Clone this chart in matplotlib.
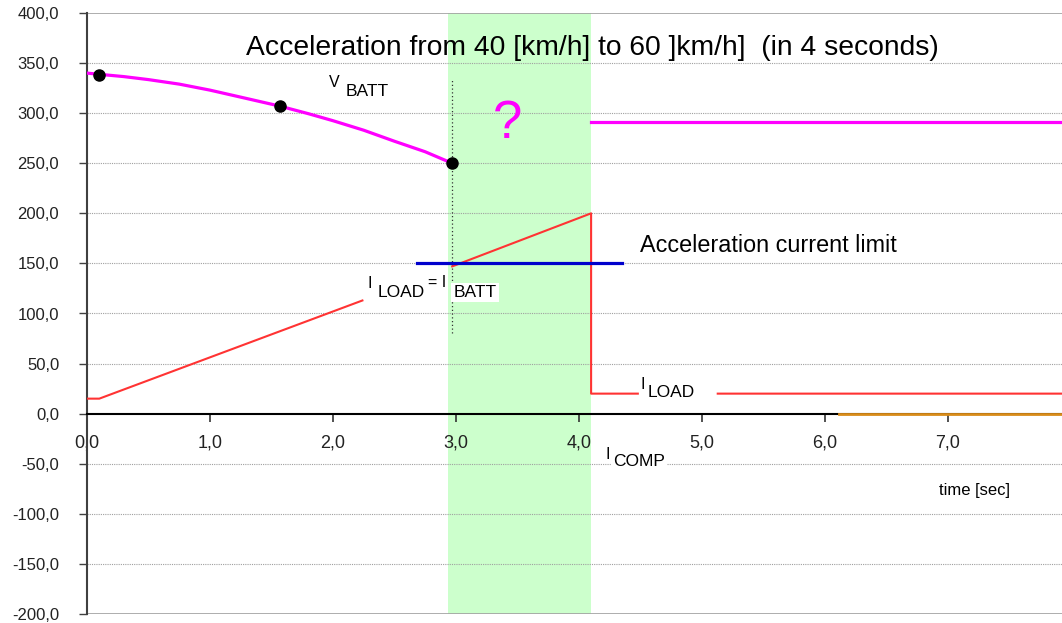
import matplotlib.pyplot as plt
import numpy as np
from matplotlib.ticker import FuncFormatter

plt.rcParams['font.family'] = ['Liberation Sans', 'DejaVu Sans']

# battery voltage before the acceleration window
v_time = [0.0, 0.1, 0.3, 0.5, 0.75, 1.0, 1.25, 1.57, 1.8, 2.0, 2.25, 2.5, 2.75, 2.97]
v_batt = [340, 338.8, 336.5, 333.5, 329, 323, 316, 307, 299.5, 292.5, 283, 272, 261.5, 250]
v_mark_time = [0.1, 1.57, 2.97]
v_mark_val = [338.5, 307, 250]
# battery voltage after the window
v_after_time = [4.1, 7.93]
v_after_val = [291, 291]

# load current (gaps are where the labels sit)
i_time = [0.0, 0.1, 2.24, np.nan, 2.97, 4.1, 4.1, 4.48, np.nan, 5.13, 7.93]
i_load = [15, 15, 113, np.nan, 147, 200, 20, 20, np.nan, 20, 20]

# acceleration current limit
lim_time = [2.68, 4.35]
lim_val = [150, 150]

# compressor current
comp_time = [6.12, 7.93]
comp_val = [0, 0]

window = (2.94, 4.10)
y_ticks = np.arange(-200, 401, 50)
x_ticks = np.arange(0, 8, 1)

fig = plt.figure(figsize=(10.62, 6.23), dpi=100)
ax = fig.add_axes([87 / 1062, 9 / 623, 975 / 1062, 601 / 623])
ax.set_xlim(0, 7.93)
ax.set_ylim(-200, 400)

ax.axvspan(*window, color='#ccffcc', zorder=0, lw=0)
for y in y_ticks:
    if y in (400, -200):
        ax.axhline(y, color='#a0a0a0', lw=1.2, zorder=1)
    elif y != 0:
        ax.axhline(y, color='#a0a0a0', lw=0.8, ls=(0, (1, 1)), zorder=1)

ax.plot([2.97, 2.97], [81, 335], color='#333333', lw=0.9, ls=(0, (1, 2)), zorder=2)

ax.plot(v_time, v_batt, color='#ff00ff', lw=2.3, zorder=3)
ax.plot(v_after_time, v_after_val, color='#ff00ff', lw=2.3, zorder=3)
ax.plot(v_mark_time, v_mark_val, 'o', color='black', ms=8, zorder=4)
ax.plot(i_time, i_load, color='#ff3333', lw=1.5, zorder=3)
ax.plot(lim_time, lim_val, color='#0000cc', lw=2.3, zorder=3)
ax.plot(comp_time, comp_val, color='#d98c1a', lw=2, zorder=4)

ax.spines['bottom'].set_position(('data', 0))
ax.spines['bottom'].set_color('black')
ax.spines['bottom'].set_linewidth(1.5)
ax.spines['bottom'].set_zorder(3)
ax.spines['left'].set_color('#404040')
ax.spines['left'].set_linewidth(1.5)
ax.spines['right'].set_visible(False)
ax.spines['top'].set_visible(False)

fmt = FuncFormatter(lambda v, p: f"{v:.1f}".replace('.', ','))
ax.set_yticks(y_ticks)
ax.set_xticks(x_ticks)
ax.yaxis.set_major_formatter(fmt)
ax.xaxis.set_major_formatter(fmt)
ax.tick_params(axis='y', direction='out', length=6, width=1, color='#404040',
               labelsize=12, pad=14, labelcolor='#222222')
ax.tick_params(axis='x', direction='out', length=6, width=1.2, color='#333333',
               labelsize=13, pad=9, labelcolor='#222222')

ax.text(4.11, 365, 'Acceleration from 40 [km/h] to 60 ]km/h]  (in 4 seconds)',
        fontsize=20.3, ha='center', va='center', zorder=5)
ax.text(3.42, 289, '?', color='#ff00ff', fontsize=38, ha='center', va='center', zorder=5)
ax.text(4.5, 168, 'Acceleration current limit', fontsize=16.8, ha='left', va='center', zorder=5)

lab = dict(fontsize=12.5, va='center', zorder=5)
small = dict(fontsize=11.5, va='center', zorder=6)
box = dict(facecolor='white', edgecolor='none', pad=1.5)
ax.text(1.97, 331, 'V', **small)
ax.text(2.10, 322, 'BATT', **lab)
ax.text(2.28, 130, 'I', **small)
ax.text(2.36, 121, 'LOAD', **lab)
ax.text(2.77, 131, '= I', **small)
ax.text(2.98, 121, 'BATT', bbox=box, **lab)
ax.text(4.5, 29, 'I', **small)
ax.text(4.56, 21, 'LOAD', **lab)
ax.text(4.22, -41, 'I', **small)
ax.text(4.28, -48, 'COMP', bbox=box, **lab)
ax.text(6.93, -77, 'time [sec]', fontsize=12, va='center', zorder=5)

fig.savefig('out.png', dpi=100)
